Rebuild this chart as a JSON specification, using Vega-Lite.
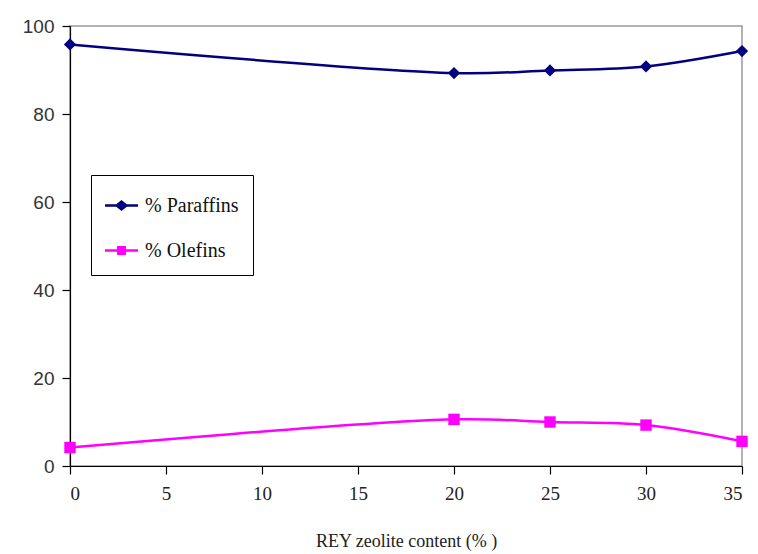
{
  "$schema": "https://vega.github.io/schema/vega-lite/v6.json",
  "width": 672,
  "height": 440,
  "autosize": "none",
  "padding": {"left": 70, "top": 26, "right": 16, "bottom": 88},
  "background": "white",
  "config": {
    "view": {"stroke": "#999999", "strokeWidth": 1.5},
    "axis": {"grid": false, "domainColor": "#000000", "tickColor": "#000000", "domainWidth": 1.2, "tickWidth": 1.2}
  },
  "data": {
    "values": [
      {"rey": 0, "series": "% Paraffins", "pct": 95.8},
      {"rey": 20, "series": "% Paraffins", "pct": 89.3},
      {"rey": 25, "series": "% Paraffins", "pct": 89.9},
      {"rey": 30, "series": "% Paraffins", "pct": 90.8},
      {"rey": 35, "series": "% Paraffins", "pct": 94.3},
      {"rey": 0, "series": "% Olefins", "pct": 4.2},
      {"rey": 20, "series": "% Olefins", "pct": 10.6},
      {"rey": 25, "series": "% Olefins", "pct": 10.0},
      {"rey": 30, "series": "% Olefins", "pct": 9.3},
      {"rey": 35, "series": "% Olefins", "pct": 5.6}
    ]
  },
  "encoding": {
    "x": {
      "field": "rey", "type": "quantitative",
      "scale": {"domain": [0, 35], "nice": false, "zero": false},
      "axis": {
        "title": "REY zeolite content (% )",
        "values": [0, 5, 10, 15, 20, 25, 30, 35],
        "tickSize": 8, "labelPadding": 10,
        "labelFont": "Liberation Serif", "labelFontSize": 19, "labelColor": "#222222",
        "titleFont": "Liberation Serif", "titleFontSize": 18, "titleFontWeight": "normal", "titleColor": "#222222",
        "titlePadding": 29
      }
    },
    "y": {
      "field": "pct", "type": "quantitative",
      "scale": {"domain": [0, 100], "nice": false},
      "axis": {
        "title": null,
        "values": [0, 20, 40, 60, 80, 100],
        "tickSize": 8, "labelPadding": 8,
        "labelFont": "Liberation Sans", "labelFontSize": 19, "labelColor": "#333333"
      }
    }
  },
  "resolve": {"scale": {"color": "independent"}, "legend": {"color": "independent"}},
  "layer": [
    {
      "mark": {"type": "line", "interpolate": "catmull-rom", "strokeWidth": 2.5},
      "encoding": {
        "color": {
          "field": "series", "type": "nominal",
          "scale": {"domain": ["% Paraffins", "% Olefins"], "range": ["#000080", "#FF00FF"]},
          "legend": null
        }
      }
    },
    {
      "transform": [{"filter": "datum.series === '% Paraffins'"}],
      "mark": {"type": "point", "shape": "diamond", "filled": true, "opacity": 1, "size": 150},
      "encoding": {
        "color": {
          "field": "series", "type": "nominal",
          "scale": {"domain": ["% Paraffins", "% Olefins"], "range": ["#000080", "#FF00FF"]},
          "legend": null
        }
      }
    },
    {
      "transform": [{"filter": "datum.series === '% Olefins'"}],
      "mark": {"type": "point", "shape": "square", "filled": true, "opacity": 1, "size": 130},
      "encoding": {
        "color": {
          "field": "series", "type": "nominal",
          "scale": {"domain": ["% Paraffins", "% Olefins"], "range": ["#000080", "#FF00FF"]},
          "legend": null
        }
      }
    },
    {
      "transform": [{"filter": "false"}],
      "mark": {"type": "point", "filled": true, "opacity": 1},
      "encoding": {
        "color": {
          "field": "series", "type": "nominal",
          "scale": {"domain": ["% Paraffins", "% Olefins"], "range": ["#000080", "#FF00FF"]},
          "legend": {
            "title": null,
            "orient": "none",
            "legendX": 21,
            "legendY": 149,
            "zindex": 0,
            "direction": "vertical",
            "strokeColor": "#000000",
            "fillColor": "#ffffff",
            "padding": 14,
            "rowPadding": 18,
            "symbolSize": 1089,
            "symbolStrokeWidth": 0,
            "symbolType": "M-1,-0.07H-0.32L0,-0.34L0.32,-0.07H1V0.07H0.32L0,0.34L-0.32,0.07H-1Z",
            "labelFont": "Liberation Serif",
            "labelFontSize": 20,
            "labelColor": "#111111",
            "labelOffset": 7
          }
        }
      }
    },
    {
      "transform": [{"filter": "false"}],
      "mark": {"type": "point", "filled": true, "opacity": 1},
      "encoding": {
        "color": {
          "field": "series", "type": "nominal",
          "scale": {"domain": ["% Olefins"], "range": ["#FF00FF"]},
          "legend": {
            "title": null,
            "orient": "none",
            "legendX": 25,
            "legendY": 198,
            "zindex": 1,
            "direction": "vertical",
            "fillColor": "#ffffff",
            "padding": 10,
            "symbolSize": 1089,
            "symbolStrokeWidth": 0,
            "symbolType": "M-1,-0.07H-0.27V-0.27H0.27V-0.07H1V0.07H0.27V0.27H-0.27V0.07H-1Z",
            "labelFont": "Liberation Serif",
            "labelFontSize": 20,
            "labelColor": "#111111",
            "labelOffset": 7
          }
        }
      }
    }
  ]
}
